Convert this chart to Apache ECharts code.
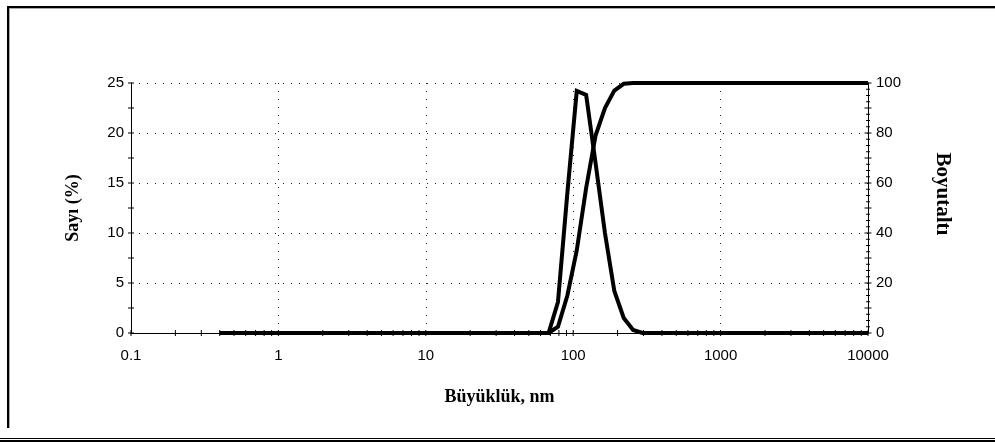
<!DOCTYPE html>
<html>
<head>
<meta charset="utf-8">
<script src="https://cdn.jsdelivr.net/npm/echarts@6/dist/echarts.min.js"></script>
<style>
  html, body { margin: 0; padding: 0; background: #fff; }
  #chart { width: 995px; height: 442px; }
</style>
</head>
<body>
<div id="chart"></div>
<script>
// Particle size classes (nm)
const sizes = [0.4, 68.06, 78.82, 91.28, 105.7, 122.4, 141.8, 164.2, 190.1, 220.2, 255.0, 295.3, 10000];
// Number distribution (%), left axis
const numberPct = [0, 0, 3.1, 14, 24.2, 23.8, 17, 10, 4.2, 1.5, 0.3, 0, 0];
// Cumulative undersize (%), right axis
const undersizePct = [0, 0, 2.5, 15, 33, 58, 79, 90, 97, 99.7, 100, 100, 100];

// Axis tick labels
const xTickLabels = ['0.1', '1', '10', '100', '1000', '10000'];
const leftTicks = [0, 5, 10, 15, 20, 25];
const rightTicks = [0, 20, 40, 60, 80, 100];

const SANS = '"Liberation Sans", Arial, sans-serif';
const SERIF = '"Liberation Serif", "Times New Roman", serif';

const chart = echarts.init(document.getElementById('chart'));

// tick marks that cross the axis lines
const xTickVals = [];
for (let d = -1; d < 4; d++) {
  for (let m = 1; m <= 9; m++) xTickVals.push(m * Math.pow(10, d));
}
xTickVals.push(10000);
const leftTickVals = [];
for (let v = 0; v <= 25; v += 2.5) leftTickVals.push(v);
const rightTickVals = [];
for (let v = 0; v <= 100; v += 2.5) rightTickVals.push(v);

const tickStyle = { stroke: '#000', lineWidth: 1 };
const dotted = { color: '#222', width: 1, type: [1, 7] };
const titleFont = { fontFamily: SERIF, fontWeight: 'bold', fontSize: 18, color: '#000' };
const labelFont = { fontFamily: SANS, fontSize: 15, color: '#000' };

chart.setOption({
  animation: false,
  backgroundColor: '#fff',
  grid: { left: 131, right: 127, top: 83, bottom: 109 },
  xAxis: {
    type: 'log',
    logBase: 10,
    min: 0.1,
    max: 10000,
    name: 'Büyüklük, nm',
    nameLocation: 'middle',
    nameGap: 55,
    nameTextStyle: titleFont,
    axisLine: { show: true, lineStyle: { color: '#000', width: 1 } },
    axisTick: { show: false },
    minorTick: { show: false },
    axisLabel: Object.assign({}, labelFont, {
      margin: 15,
      formatter: function (v) {
        const i = Math.round(Math.log10(v)) + 1;
        return xTickLabels[i] !== undefined ? xTickLabels[i] : '';
      }
    }),
    splitLine: { show: true, lineStyle: dotted }
  },
  yAxis: [
    {
      type: 'value',
      min: leftTicks[0],
      max: leftTicks[leftTicks.length - 1],
      interval: 5,
      name: 'Sayı (%)',
      nameLocation: 'middle',
      nameRotate: 90,
      nameGap: 49,
      nameTextStyle: titleFont,
      axisLine: { show: true, lineStyle: { color: '#000', width: 1 } },
      axisTick: { show: false },
      axisLabel: Object.assign({}, labelFont, { margin: 7 }),
      splitLine: { show: true, lineStyle: dotted }
    },
    {
      type: 'value',
      position: 'right',
      min: rightTicks[0],
      max: rightTicks[rightTicks.length - 1],
      interval: 20,
      axisLine: { show: true, lineStyle: { color: '#000', width: 1 } },
      axisTick: { show: false },
      axisLabel: Object.assign({}, labelFont, { margin: 8 }),
      splitLine: { show: false }
    }
  ],
  graphic: [
    // outer frame
    { type: 'rect', shape: { x: 7, y: 6, width: 988, height: 2 }, style: { fill: '#000' }, silent: true },
    { type: 'rect', shape: { x: 9, y: 8, width: 986, height: 1 }, style: { fill: '#aaa' }, silent: true },
    { type: 'rect', shape: { x: 7, y: 6, width: 2, height: 422 }, style: { fill: '#000' }, silent: true },
    { type: 'rect', shape: { x: 9, y: 8, width: 1, height: 420 }, style: { fill: '#aaa' }, silent: true },
    { type: 'rect', shape: { x: 0, y: 438, width: 995, height: 1 }, style: { fill: '#000' }, silent: true },
    { type: 'rect', shape: { x: 0, y: 440, width: 995, height: 2 }, style: { fill: '#000' }, silent: true },
    // right axis title, reading top to bottom
    {
      type: 'text',
      x: 942,
      y: 194,
      rotation: -Math.PI / 2,
      silent: true,
      style: {
        text: 'Boyutaltı',
        fontFamily: SERIF,
        fontWeight: 'bold',
        fontSize: 21,
        fill: '#000',
        align: 'center',
        verticalAlign: 'middle'
      }
    }
  ],
  series: [
    {
      name: 'x ticks',
      type: 'custom',
      silent: true,
      clip: false,
      z: 5,
      xAxisIndex: 0,
      yAxisIndex: 0,
      data: xTickVals.map(v => [v, 0]),
      renderItem: function (params, api) {
        const p = api.coord([api.value(0), 0]);
        return { type: 'line', shape: { x1: p[0], y1: p[1] - 3, x2: p[0], y2: p[1] + 3 }, style: tickStyle };
      }
    },
    {
      name: 'left ticks',
      type: 'custom',
      silent: true,
      clip: false,
      z: 5,
      xAxisIndex: 0,
      yAxisIndex: 0,
      data: leftTickVals.map(v => [0.1, v]),
      renderItem: function (params, api) {
        const p = api.coord([0.1, api.value(1)]);
        return { type: 'line', shape: { x1: p[0] - 3, y1: p[1], x2: p[0] + 3, y2: p[1] }, style: tickStyle };
      }
    },
    {
      name: 'right ticks',
      type: 'custom',
      silent: true,
      clip: false,
      z: 5,
      xAxisIndex: 0,
      yAxisIndex: 1,
      data: rightTickVals.map(v => [10000, v]),
      renderItem: function (params, api) {
        const v = api.value(1);
        const p = api.coord([10000, v]);
        const h = (Math.abs(v % 10) < 1e-6) ? 3.5 : 2;
        return { type: 'line', shape: { x1: p[0] - h, y1: p[1], x2: p[0] + h, y2: p[1] }, style: tickStyle };
      }
    },
    {
      name: 'Sayı (%)',
      type: 'line',
      yAxisIndex: 0,
      showSymbol: false,
      symbol: 'none',
      z: 10,
      clip: false,
      lineStyle: { color: '#000', width: 4, join: 'miter' },
      data: sizes.map((s, i) => [s, numberPct[i]])
    },
    {
      name: 'Boyutaltı',
      type: 'line',
      yAxisIndex: 1,
      showSymbol: false,
      symbol: 'none',
      z: 10,
      clip: false,
      lineStyle: { color: '#000', width: 4, join: 'miter' },
      data: sizes.map((s, i) => [s, undersizePct[i]])
    }
  ]
});
</script>
</body>
</html>
